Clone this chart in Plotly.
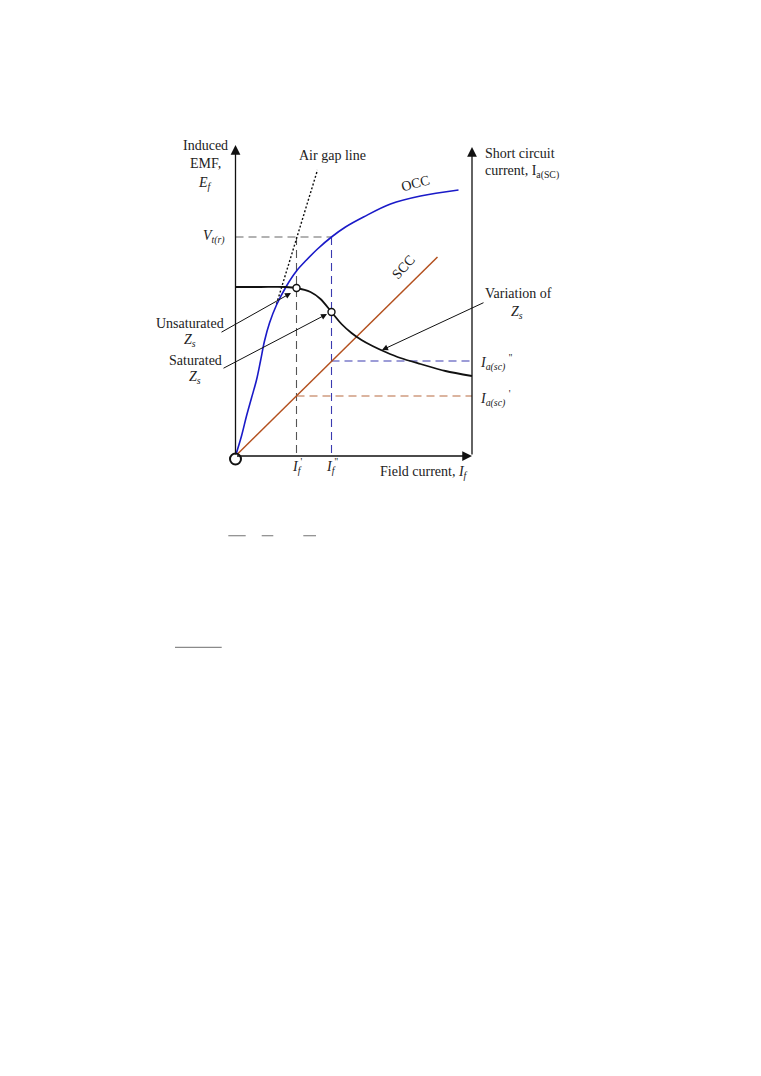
import plotly.graph_objects as go

# ---- data (arbitrary units: field current on x, EMF / current on y) ----
occ_x = [0, 6, 11, 16, 21, 25, 29, 34, 41, 51, 61, 71, 82, 96, 110, 128, 155, 185, 223]
occ_y = [0, 20, 40, 58, 76, 95, 115, 133, 151, 170, 185, 196, 207, 219, 229, 239, 252, 260, 266]

scc_x = [0, 202]
scc_y = [0, 199]

zs_x = [0, 25, 50, 61, 75, 85, 96, 106, 116, 126, 137, 150, 165, 185, 210, 236.5]
zs_y = [169, 169, 169, 168, 164, 157, 144, 132, 123, 116, 110, 104, 98, 92, 85, 80]

airgap_x = [41, 82]
airgap_y = [152, 286]

if1 = 61      # I_f'
if2 = 96      # I_f''
vt = 219      # V_t(r)
ia2 = 95      # I_a(sc)''
ia1 = 60      # I_a(sc)'
x_end = 236.5  # right axis position
y_top_left = 311
y_top_right = 309

FONT = "Liberation Serif"
TXT = "#222222"

# page body has an 8px margin; the figure is sized/ranged to compensate
W, H = 753, 1068
X0, Y0 = 227.5, 448   # figure pixel position of the origin

fig = go.Figure()

def line(x, y, color, width=1.2, dash=None, shape="linear", smooth=None):
    fig.add_trace(go.Scatter(x=x, y=y, mode="lines", hoverinfo="skip",
                             line=dict(color=color, width=width, dash=dash, shape=shape,
                                       smoothing=smooth),
                             showlegend=False))

# dashed guide lines
line([0, if2], [vt, vt], "#666666", 1.1, "8px,5px")
line([if1, if1], [vt, 0], "#555555", 1.1, "8px,5px")
line([if2, if2], [vt, 0], "#3a3ab0", 1.1, "8px,5px")
line([if2, x_end], [ia2, ia2], "#3a3ab0", 1.1, "8px,5px")
line([if1, x_end], [ia1, ia1], "#b86a40", 1.1, "8px,5px")

# curves
line(airgap_x, airgap_y, "#111111", 1.4, "2px,2px")
line(scc_x, scc_y, "#b3501e", 1.5)
line(occ_x, occ_y, "#1a1ac8", 1.6, shape="spline", smooth=1.0)
line(zs_x, zs_y, "#111111", 1.8, shape="spline", smooth=0.8)

# small circles on Zs curve
fig.add_trace(go.Scatter(x=[if1, if2], y=[zs_y[3], zs_y[6]], mode="markers", hoverinfo="skip",
                         marker=dict(size=7, color="white", line=dict(color="#111111", width=1.4)),
                         showlegend=False))
# origin O
fig.add_trace(go.Scatter(x=[0], y=[-3], mode="markers", hoverinfo="skip",
                         marker=dict(size=11, color="white", line=dict(color="#111111", width=2)),
                         showlegend=False))

ann = []
def arrow(x, y, ax, ay, w=1.2, head=2, size=1.0):
    ann.append(dict(x=x, y=y, ax=ax, ay=ay, xref="x", yref="y", axref="x", ayref="y",
                    text="", showarrow=True, arrowhead=head, arrowsize=size,
                    arrowwidth=w, arrowcolor="#111111", standoff=0, startstandoff=0))

# axes with arrowheads
arrow(0, y_top_left, 0, 0, 1.3, 2, 1.5)
arrow(x_end, y_top_right, x_end, 0, 1.3, 2, 1.5)
arrow(x_end, 0, 0, 0, 1.3, 2, 1.5)

# pointer arrows
arrow(55.5, 163, -15.5, 123, 1.0, 2, 1.2)
arrow(91.5, 142, -13.5, 87, 1.0, 2, 1.2)
arrow(146.5, 106, 249.5, 154, 1.0, 2, 1.2)

def text(x, y, s, xanchor="center", angle=0, size=14):
    ann.append(dict(x=x, y=y, xref="x", yref="y", text=s, showarrow=False,
                    xanchor=xanchor, yanchor="middle", textangle=angle,
                    font=dict(family=FONT, size=size, color=TXT)))

text(-30.5, 311, "Induced")
text(-30.5, 293, "EMF,")
text(-30.5, 273, "<i>E<sub>f</sub></i>")
text(96.5, 301, "Air gap line")
text(179.5, 273, "OCC", angle=-15)
text(167.5, 189, "SCC", angle=-48)
text(-9, 219, "<i>V<sub>t(r)</sub></i>", xanchor="right")
text(-45.5, 133, "Unsaturated")
text(-45.5, 116, "<i>Z<sub>s</sub></i>")
text(-40.5, 96, "Saturated")
text(-40.5, 79, "<i>Z<sub>s</sub></i>")
text(282.5, 163, "Variation of")
text(281.5, 144, "<i>Z<sub>s</sub></i>")
text(242.5, 94, "<i>I<sub>a(sc)</sub></i> <sup>''</sup>", xanchor="left")
text(242.5, 58, "<i>I<sub>a(sc)</sub></i> <sup>'</sup>", xanchor="left")
text(247.5, 303, "Short circuit", xanchor="left")
text(247.5, 284, "current, I<sub>a(SC)</sub>", xanchor="left")
text(if1, -10, "<i>I<sub>f</sub></i><sup>'</sup>")
text(if2, -10, "<i>I<sub>f</sub></i><sup>''</sup>")
text(142, -16, "Field current, <i>I<sub>f</sub></i>", xanchor="left")

# stray short lines below the figure
shapes = []
for x0, x1, yy in [(-7.2, 10.2, -79.7), (26.2, 37.8, -79.7), (67.8, 80.5, -79.7), (-60.5, -13.8, -191.3)]:
    shapes.append(dict(type="line", xref="x", yref="y", x0=x0, x1=x1, y0=yy, y1=yy,
                       line=dict(color="#8a8a8a", width=1.2)))

fig.update_layout(
    width=W, height=H,
    margin=dict(l=0, r=0, t=0, b=0),
    paper_bgcolor="white", plot_bgcolor="white",
    xaxis=dict(range=[-X0, W - X0], visible=False, fixedrange=True),
    yaxis=dict(range=[Y0 - H, Y0], visible=False, fixedrange=True),
    annotations=ann, shapes=shapes,
    showlegend=False,
)

fig.write_html("out.html", config={"displayModeBar": False})
